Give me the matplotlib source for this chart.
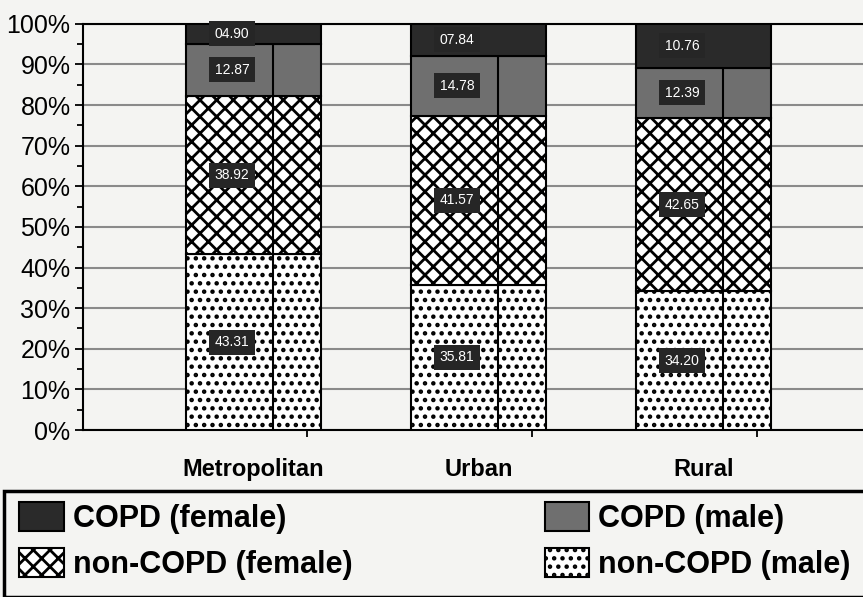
import numpy as np
import matplotlib.pyplot as plt
from matplotlib.patches import Rectangle

plt.rcParams["font.family"] = ["Liberation Sans", "DejaVu Sans"]
plt.rcParams["hatch.linewidth"] = 2.0

# shares (%) by area
areas = ["Metropolitan", "Urban", "Rural"]
noncopd_male = [43.31, 35.81, 34.20]
noncopd_female = [38.92, 41.57, 42.65]
copd_male = [12.87, 14.78, 12.39]
copd_female = [4.90, 7.84, 10.76]
value_labels = {
    "noncopd_male": ["43.31", "35.81", "34.20"],
    "noncopd_female": ["38.92", "41.57", "42.65"],
    "copd_male": ["12.87", "14.78", "12.39"],
    "copd_female": ["04.90", "07.84", "10.76"],
}
y_ticks = [0, 10, 20, 30, 40, 50, 60, 70, 80, 90, 100]

bg = "#f4f4f2"
fig = plt.figure(figsize=(8.63, 5.97), dpi=100, facecolor=bg)
ax = fig.add_axes([0.0962, 0.2797, 0.9038, 0.6803])
ax.set_facecolor(bg)

x = np.arange(len(areas))
w = 0.6
series = [
    ("noncopd_male", noncopd_male, dict(color="white", hatch=".."), "non-COPD (male)"),
    ("noncopd_female", noncopd_female, dict(color="white", hatch="xx"), "non-COPD (female)"),
    ("copd_male", copd_male, dict(color="#6f6f6f"), "COPD (male)"),
    ("copd_female", copd_female, dict(color="#2a2a2a"), "COPD (female)"),
]
bottom = np.zeros(len(areas))
handles = {}
for key, vals, style, label in series:
    vals = np.array(vals)
    bars = ax.bar(x, vals, w, bottom=bottom, edgecolor="black", linewidth=1.5,
                  label=label, zorder=3, **style)
    handles[key] = bars
    for xi, b, v, txt in zip(x, bottom, vals, value_labels[key]):
        ax.text(xi - 0.095, b + v / 2, txt, ha="center", va="center", color="white",
                fontsize=10, zorder=5,
                bbox=dict(boxstyle="square,pad=0.4", fc="#262626", ec="none"))
    bottom = bottom + vals

# inner divider line of each bar
top_male = np.array(noncopd_male) + np.array(noncopd_female) + np.array(copd_male)
ax.vlines(x + 0.087, 0, top_male, color="black", linewidth=1.5, zorder=4)

ax.set_xlim(-0.758, 2.709)
ax.set_ylim(0, 100)
ax.set_yticks(y_ticks)
ax.set_yticklabels([f"{t}%" for t in y_ticks], fontsize=18)
ax.set_yticks(np.arange(5, 100, 10), minor=True)
ax.tick_params(axis="y", which="major", length=6, width=1.3, direction="out", pad=3)
ax.tick_params(axis="y", which="minor", length=4, width=1.3, direction="out")
ax.set_xticks(x)
ax.set_xticklabels(areas, fontsize=17, fontweight="bold")
ax.tick_params(axis="x", length=0, pad=20)
ax.set_xticks(x + 0.238, minor=True)
ax.tick_params(axis="x", which="minor", length=5, width=1.3, direction="out")

ax.grid(axis="y", color="#8a8a8a", linewidth=1.5, zorder=0)
ax.set_axisbelow(True)
for side in ["left", "bottom", "top"]:
    ax.spines[side].set_linewidth(1.5)
ax.spines["right"].set_visible(False)

# legend frame
fig.patches.append(Rectangle((0.005, 0.0), 1.1, 0.178, transform=fig.transFigure,
                             fill=False, edgecolor="black", linewidth=2.5))
order = ["copd_female", "noncopd_female", "copd_male", "noncopd_male"]
names = {"copd_female": "COPD (female)", "noncopd_female": "non-COPD (female)",
         "copd_male": "COPD (male)", "noncopd_male": "non-COPD (male)"}
fig.legend([handles[k] for k in order], [names[k] for k in order], ncol=2,
           loc="lower left", bbox_to_anchor=(-0.006, -0.012), frameon=False,
           prop=dict(weight="bold", size=22),
           handlelength=1.45, handleheight=1.1, handletextpad=0.3,
           columnspacing=6.3, labelspacing=0.45, borderpad=0.3)

fig.savefig("out.png", dpi=100, facecolor=bg)
